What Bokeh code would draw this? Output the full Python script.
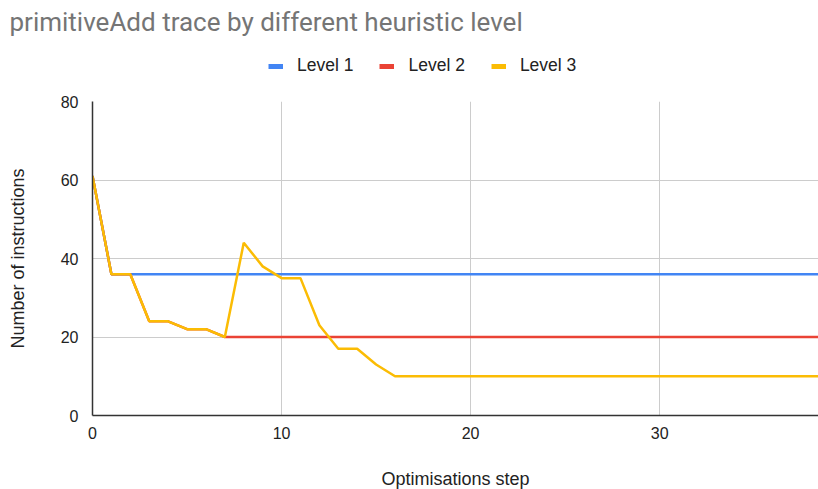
from bokeh.plotting import figure
from bokeh.layouts import column
from bokeh.models import Range1d, FixedTicker, Legend, LegendItem
from bokeh.embed import file_html
from bokeh.resources import INLINE

steps = list(range(0, 40))
level1 = [61, 36] + [36] * 38
level2 = [61, 36, 36, 24, 24, 22, 22, 20] + [20] * 32
level3 = [61, 36, 36, 24, 24, 22, 22, 20, 44, 38, 35, 35, 23, 17, 17, 13, 10] + [10] * 23
series_names = ["Level 1", "Level 2", "Level 3"]
colors = ["#4285F4", "#EA4335", "#FBBC04"]
x_ticks = [0, 10, 20, 30]
y_ticks = [0, 20, 40, 60, 80]
title_text = "primitiveAdd trace by different heuristic level"

FONT = "Liberation Sans"
series = [level1, level2, level3]

# ---- header: title (above its frame) and legend (inside its frame) ----
header = figure(frame_width=726, height=80, output_backend="svg", toolbar_location=None,
                title=title_text, x_range=Range1d(0, 1), y_range=Range1d(0, 1),
                min_border_left=92, min_border_right=0, min_border_top=2, min_border_bottom=0)
header.axis.visible = False
header.grid.visible = False
header.outline_line_color = None
header.title.text_font = "Roboto"
header.title.text_font_size = "26px"
header.title.text_font_style = "normal"
header.title.text_color = "#757575"
header.title.align = "left"
header.title.offset = -83
header.title.standoff = 8

# legend swatches (their data falls outside the header's ranges, so only the legend shows them)
swatches = [header.line(steps, s, line_color=c, line_width=5) for s, c in zip(series, colors)]

legend = Legend(items=[LegendItem(label=n, renderers=[r]) for n, r in zip(series_names, swatches)],
                orientation="horizontal", location=(176, 4),
                label_text_font=FONT, label_text_font_size="17.5px", label_text_color="#222222",
                glyph_width=15, glyph_height=20, label_standoff=14, spacing=26,
                border_line_color=None, background_fill_alpha=0, padding=0, margin=0)
header.add_layout(legend, "center")

# ---- main chart ----
p = figure(frame_width=726, frame_height=314, output_backend="svg", toolbar_location=None,
           title=None, x_range=Range1d(0, 38.4), y_range=Range1d(0, 80),
           min_border_left=92, min_border_right=0, min_border_top=21, min_border_bottom=73)
p.outline_line_color = None

for s, c in zip(series, colors):
    p.line(steps, s, line_color=c, line_width=2.5)

for ax in (p.xaxis[0], p.yaxis[0]):
    ax.major_tick_line_color = None
    ax.minor_tick_line_color = None
    ax.major_label_text_font = FONT
    ax.major_label_text_font_size = "16px"
    ax.major_label_text_color = "#222222"
    ax.axis_label_text_font = FONT
    ax.axis_label_text_font_size = "18px"
    ax.axis_label_text_font_style = "normal"
    ax.axis_label_text_color = "#222222"
    ax.axis_line_color = "#333333"
    ax.axis_line_width = 1.5

p.xaxis.ticker = FixedTicker(ticks=x_ticks)
p.yaxis.ticker = FixedTicker(ticks=y_ticks)
p.xaxis.axis_label = "Optimisations step"
p.yaxis.axis_label = "Number of instructions"
p.xaxis.major_label_standoff = 5
p.yaxis.major_label_standoff = 8
p.xaxis.axis_label_standoff = 27
p.yaxis.axis_label_standoff = 30

p.xgrid.grid_line_color = "#cccccc"
p.ygrid.grid_line_color = "#cccccc"
p.xgrid.ticker = FixedTicker(ticks=x_ticks)
p.ygrid.ticker = FixedTicker(ticks=y_ticks)

layout = column(header, p)
open("out.html", "w").write(file_html(layout, INLINE))
